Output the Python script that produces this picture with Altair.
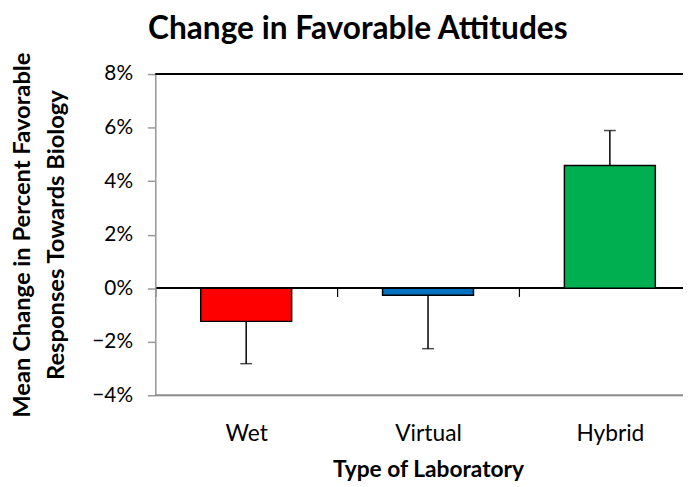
import altair as alt
import pandas as pd

categories = ["Wet", "Virtual", "Hybrid"]
means = [-0.0124, -0.0026, 0.0458]
errors = [0.0158, 0.0200, 0.0131]
colors = ["#FF0000", "#0070C0", "#00B050"]

df = pd.DataFrame({"lab": categories, "mean": means, "err": errors, "color": colors})
df["end"] = [m - e if m < 0 else m + e for m, e in zip(means, errors)]

ref_vals = [0.08, -0.04]
ref_colors = ["#000000", "#8C8C8C"]
refs = pd.DataFrame({"y": ref_vals, "c": ref_colors})

FONT = "Lato"
W = 552
STEP = W / 3

xenc = alt.X(
    "lab:N",
    sort=categories,
    scale=alt.Scale(paddingInner=0.5, paddingOuter=0.25),
    axis=alt.Axis(
        title="Type of Laboratory",
        titleFont=FONT, titleFontSize=23, titleFontWeight="bold", titleColor="#000000",
        titlePadding=13,
        labelFont=FONT, labelFontSize=23, labelColor="#000000", labelAngle=0,
        labelPadding=128,
        offset=-109,
        domainColor="#000000", domainWidth=2,
        tickOffset=-STEP / 2, labelOffset=STEP / 2,
        tickColor="#000000", tickSize=9, tickWidth=1.2,
    ),
)

yscale = alt.Scale(domain=[-0.04, 0.08], nice=False)

bars = alt.Chart(df).mark_bar(stroke="#000000", strokeWidth=1.5).encode(
    x=xenc,
    y=alt.Y(
        "mean:Q",
        scale=yscale,
        axis=alt.Axis(
            title=["Mean  Change in Percent Favorable", "Responses Towards  Biology"],
            titleFont=FONT, titleFontSize=24, titleFontWeight="bold", titleColor="#000000",
            titleLineHeight=34,
            titlePadding=24,
            values=[-0.04, -0.02, 0, 0.02, 0.04, 0.06, 0.08],
            format=".0%",
            labelFont=FONT, labelFontSize=21, labelColor="#000000", labelPadding=15,
            domainColor="#999999", domainWidth=1.5,
            tickColor="#999999", tickSize=8, tickWidth=1.5,
            grid=False,
        ),
    ),
    color=alt.Color("color:N", scale=None),
)

errbars = alt.Chart(df).mark_rule(color="#000000", strokeWidth=1.5).encode(
    x=xenc,
    y=alt.Y("mean:Q", scale=yscale),
    y2="end:Q",
)

caps = alt.Chart(df).mark_tick(color="#000000", thickness=1.5, size=12).encode(
    x=xenc,
    y=alt.Y("end:Q", scale=yscale),
)

reflines = alt.Chart(refs).mark_rule(strokeWidth=2).encode(
    y=alt.Y("y:Q", scale=yscale),
    color=alt.Color("c:N", scale=None),
)

chart = alt.layer(reflines, bars, errbars, caps).properties(
    width=W,
    height=325,
    padding={"left": 149, "top": 64, "right": 534 - W, "bottom": 90},
    autosize=alt.AutoSizeParams(type="none"),
    title=alt.TitleParams(
        "Change in Favorable Attitudes",
        font=FONT, fontSize=32, fontWeight="bold", color="#000000",
        anchor="middle", frame="group", dx=-(W / 2 - 205), dy=10, offset=13,
    ),
).configure_view(stroke=None).configure(background="white")

chart.save("out.html", embed_options={"renderer": "svg", "actions": False})
